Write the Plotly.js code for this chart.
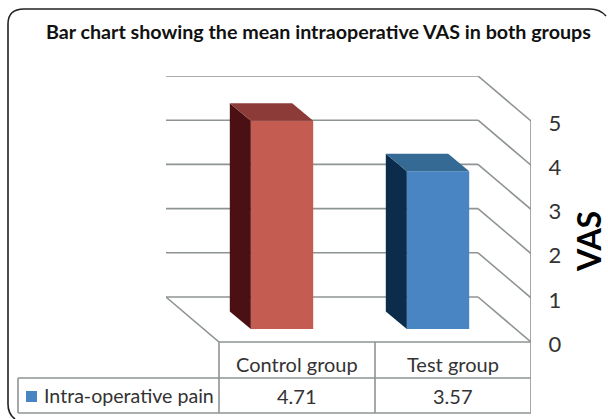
<!DOCTYPE html>
<html><head><meta charset="utf-8">
<script src="https://cdn.plot.ly/plotly-3.0.1.min.js"></script>
<style>html,body{margin:0;padding:0;background:#fff}#c{width:608px;height:419px}</style>
</head><body><div id="c"></div>
<script>
const categories = ["Control group", "Test group"];
const painValues = [4.71, 3.57];
const seriesName = "Intra-operative pain";
const tickValues = [0, 1, 2, 3, 4, 5];
const titleText = "Bar chart showing the mean intraoperative VAS in both groups";
const axisName = "VAS";

const W = 608, H = 419;
const M = {l: 166, r: 77, t: 76, b: 77};
const pw = W - M.l - M.r, ph = H - M.t - M.b;
const px = x => (x - M.l) / pw;
const py = y => 1 - (y - M.t) / ph;

const unitX = 156, unitY = 44.2;
const wallDX = -53 / unitX, wallDY = 45 / unitY;
const barShiftX = -15 / unitX, barBase = 13 / unitY;
const barDX = -21 / unitX, barDY = 17.5 / unitY, barW = 0.4;
const frontCol = ["#C55C51", "#4A85C3"], topCol = ["#8C3B38", "#346A94"], sideCol = ["#4A1013", "#0B2D4B"];
const lineCol = "#8E9394";
const fontFam = "Lato, Carlito, sans-serif";
const n = categories.length;

const shapes = [];
const dataSeg = (x0, y0, x1, y1) => ({type: "line", xref: "x", yref: "y", x0, y0, x1, y1,
  line: {color: lineCol, width: 1.6}, layer: "below"});
// walls and floor
tickValues.forEach(t => {
  shapes.push(dataSeg(wallDX, t + wallDY, n + wallDX, t + wallDY));
  shapes.push(dataSeg(n + wallDX, t + wallDY, n, t));
});
shapes.push(dataSeg(wallDX, wallDY, 0, 0));
shapes.push(dataSeg(n, 0, n, tickValues[tickValues.length - 1]));

const traces = [];
const centers = categories.map((c, i) => i + 0.5 + barShiftX);
traces.push({type: "bar", x: centers, y: painValues, base: painValues.map(() => barBase), width: barW,
  name: seriesName, marker: {color: frontCol, line: {width: 0}}, showlegend: false});
// 3D faces
painValues.forEach((v, i) => {
  const L = centers[i] - barW / 2, R = centers[i] + barW / 2, T = barBase + v;
  traces.push({type: "scatter", mode: "lines", fill: "toself", fillcolor: sideCol[i], line: {width: 0, color: sideCol[i]},
    x: [L, L, L + barDX, L + barDX, L], y: [barBase, T, T + barDY, barBase + barDY, barBase],
    hoverinfo: "skip", showlegend: false});
  traces.push({type: "scatter", mode: "lines", fill: "toself", fillcolor: topCol[i], line: {width: 0, color: topCol[i]},
    x: [L, R, R + barDX, L + barDX, L], y: [T, T, T + barDY, T + barDY, T],
    hoverinfo: "skip", showlegend: false});
});

// table
const rowY = [342, 378, 413], legendL = 18;
const seg = (x0, y0, x1, y1, xref) => ({type: "line", xref: xref || "paper", yref: "paper",
  x0, x1, y0: py(y0), y1: py(y1), line: {color: lineCol, width: 1.6}, layer: "below"});
for (let i = 0; i <= n; i++) shapes.push(seg(i, rowY[0], i, rowY[2], "x"));
shapes.push(seg(0, rowY[0], n, rowY[0], "x"));
shapes.push(seg(px(legendL), rowY[1], px(219 + unitX * n), rowY[1]));
shapes.push(seg(px(legendL), rowY[2], px(219 + unitX * n), rowY[2]));
shapes.push(seg(px(legendL), rowY[1], px(legendL), rowY[2]));
// swatch
shapes.push({type: "rect", xref: "paper", yref: "paper", x0: px(26), x1: px(37), y0: py(391), y1: py(402),
  fillcolor: frontCol[1], line: {width: 0}});
// outer rounded frame
const f = (x, y) => px(x).toFixed(4) + " " + py(y).toFixed(4);
shapes.push({type: "path", xref: "paper", yref: "paper", line: {color: "#222", width: 1.6},
  path: `M ${f(15, 419)} Q ${f(8, 414)} ${f(8, 404)} L ${f(8, 24)} Q ${f(8, 9)} ${f(24, 9)} L ${f(590, 9)} Q ${f(600, 9)} ${f(606, 16)}`});

const annotations = [];
const txt = (text, xref, x, yp, size, extra) => Object.assign({text, xref, yref: "paper", x, y: py(yp),
  showarrow: false, xanchor: "center", yanchor: "middle", font: {family: fontFam, size, color: "#333"}}, extra || {});
categories.forEach((c, i) => {
  annotations.push(txt(c, "x", i + 0.5, 364, 20));
  annotations.push(txt(String(painValues[i]), "x", i + 0.5, 396, 20));
});
annotations.push(txt(seriesName, "paper", px(42), 395, 19.6, {xanchor: "left"}));
annotations.push(txt(axisName, "paper", px(588), 242, 32, {textangle: -90, font: {family: fontFam, size: 32, color: "#000", weight: 700}}));

const layout = {
  width: W, height: H, margin: M, paper_bgcolor: "#fff", plot_bgcolor: "rgba(0,0,0,0)",
  title: {text: titleText, x: 46 / W, xanchor: "left", xref: "container", y: 1 - 32 / H, yref: "container", yanchor: "middle",
    font: {family: fontFam, size: 19.7, color: "#111", weight: 700}},
  xaxis: {range: [wallDX, n], visible: false, fixedrange: true},
  yaxis: {range: [0, 266 / unitY], side: "right", tickmode: "array", tickvals: tickValues, ticktext: tickValues.map(String),
    showgrid: false, zeroline: false, showline: false, ticks: "outside", ticklen: 12, tickcolor: "rgba(0,0,0,0)",
    ticklabelshift: 2,
    tickfont: {family: fontFam, size: 22, color: "#333"}, fixedrange: true},
  shapes, annotations, showlegend: false
};
Plotly.newPlot("c", traces, layout, {displayModeBar: false, staticPlot: true});
</script></body></html>
